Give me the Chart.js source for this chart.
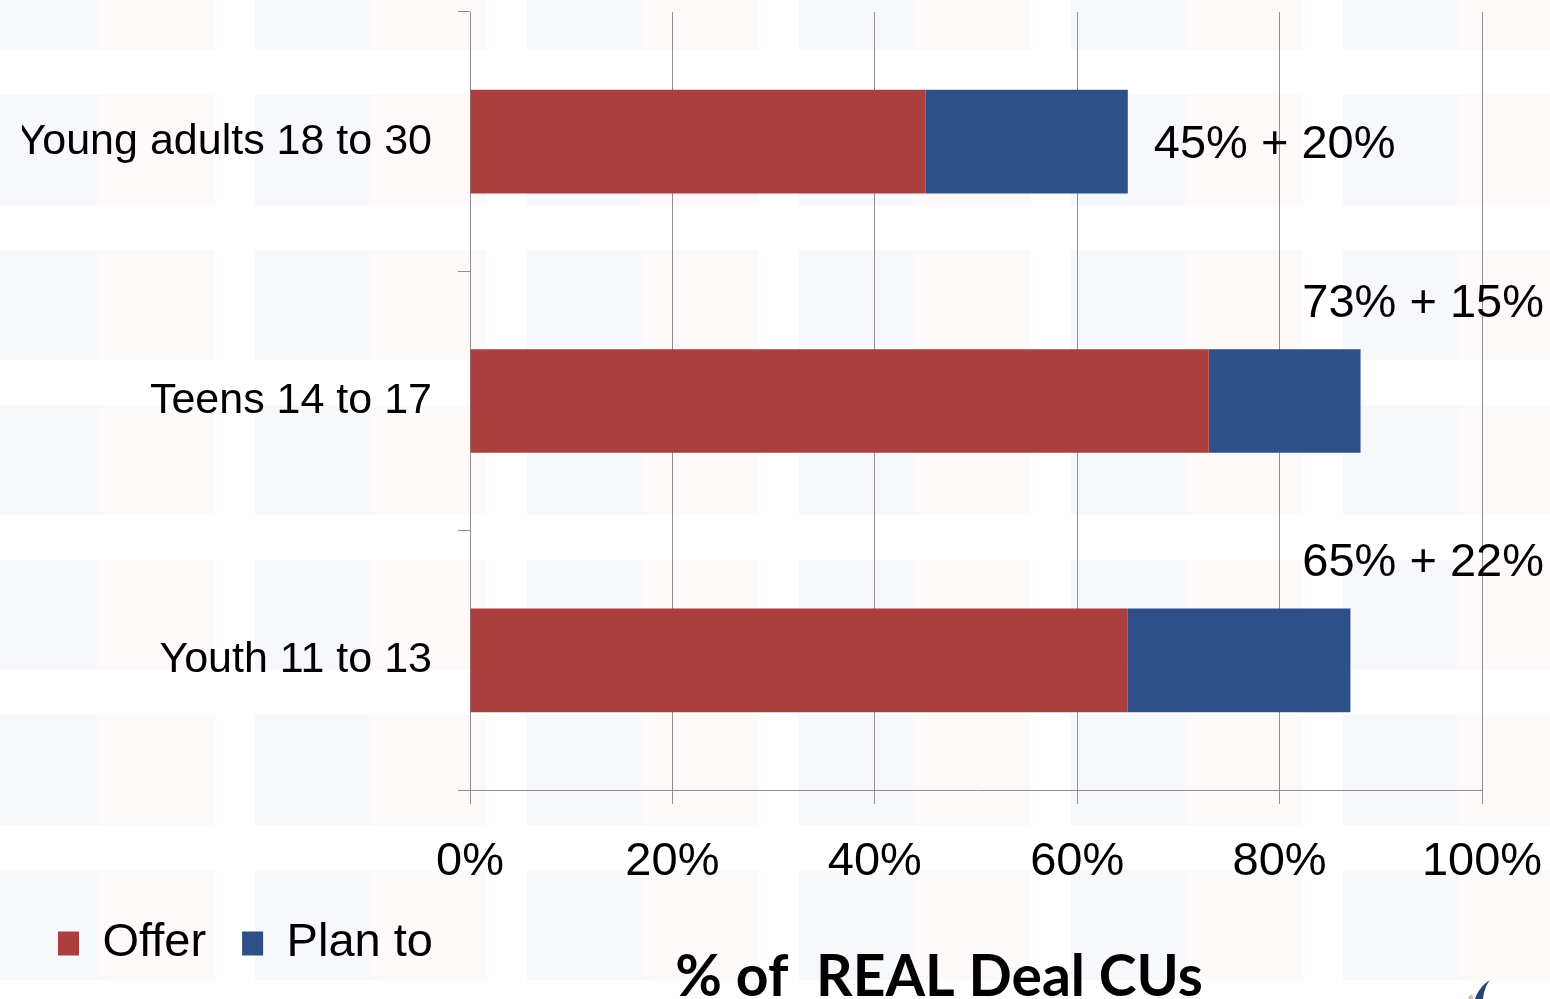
<!DOCTYPE html>
<html>
<head>
<meta charset="utf-8">
<script src="https://cdn.jsdelivr.net/npm/chart.js@4/dist/chart.umd.min.js"></script>
<style>
  html, body { margin: 0; padding: 0; }
  body {
    width: 1550px; height: 999px; overflow: hidden; position: relative;
    background-color: #fff;
    /* faint tiled slide background */
    background-image:
      linear-gradient(to bottom, rgba(255,255,255,0) 0 110px, #fff 110px 155px),
      linear-gradient(to right, #f6f8fc 0 115px, #fdf9f9 115px 232px, #fff 232px 272px);
    background-size: 100% 155px, 272px 100%;
    background-position: 0 95px, -17px 0;
  }
  #wrap { position: absolute; left: 0; top: 0; width: 1550px; height: 999px; }
  #logo { position: absolute; left: 1466px; top: 980px; }
</style>
</head>
<body>
<div id="wrap"><canvas id="chart" width="1550" height="999"></canvas></div>
<svg id="logo" width="30" height="19" viewBox="0 0 30 19">
  <path d="M24 0 C16 5 12 11 9 19 L17 19 C18 11 20 5 24 0 Z" fill="#24447c"/>
  <path d="M2 17 L6 14 L7 19 L3 19 Z" fill="#c46a6a" opacity="0.5"/>
</svg>
<script>
const categories = ["Young adults 18 to 30", "Teens 14 to 17", "Youth 11 to 13"];
const offer = [45, 73, 65];
const planTo = [20, 15, 22];
const xTicks = [0, 20, 40, 60, 80, 100];
const seriesNames = ["Offer", "Plan to"];
const titleText = "% of  REAL Deal CUs";

const RED = "#ab3f3f";
const BLUE = "#2d5088";
const GRID = "#8f8f8f";
const FONT = "'Liberation Sans', Arial, sans-serif";

// "45% + 20%" labels: beside the bar when it fits, otherwise above its end
const sumLabels = {
  id: "sumLabels",
  afterDatasetsDraw(chart) {
    const { ctx, scales: { x, y } } = chart;
    ctx.save();
    ctx.font = "47px " + FONT;
    ctx.fillStyle = "#000";
    ctx.textBaseline = "middle";
    categories.forEach((c, i) => {
      const txt = offer[i] + "% + " + planTo[i] + "%";
      const end = x.getPixelForValue(offer[i] + planTo[i]);
      const yc = y.getPixelForValue(i);
      const w = ctx.measureText(txt).width;
      if (end + 26 + w < chart.width - 6) {
        ctx.textAlign = "left";
        ctx.fillText(txt, end + 26, yc + 3);
      } else {
        ctx.textAlign = "right";
        ctx.fillText(txt, chart.width - 6, yc - 97);
      }
    });
    ctx.restore();
  }
};

// axis caption under the legend
const caption = {
  id: "caption",
  afterDraw(chart) {
    const { ctx } = chart;
    ctx.save();
    ctx.font = "bold 57px Lato, 'Open Sans', sans-serif";
    ctx.fillStyle = "#000";
    ctx.textAlign = "center";
    ctx.textBaseline = "alphabetic";
    ctx.fillText(titleText, 939, 996);
    ctx.restore();
  }
};

new Chart(document.getElementById("chart"), {
  type: "bar",
  data: {
    labels: categories,
    datasets: [
      { label: seriesNames[0], data: offer, backgroundColor: RED },
      { label: seriesNames[1], data: planTo, backgroundColor: BLUE }
    ]
  },
  options: {
    indexAxis: "y",
    responsive: false,
    animation: false,
    events: [],
    barPercentage: 0.4,
    categoryPercentage: 1,
    layout: { padding: { left: 22, right: 68, top: 12, bottom: 22 } },
    scales: {
      x: {
        stacked: true,
        min: 0,
        max: 100,
        afterBuildTicks(s) { s.ticks = xTicks.map(v => ({ value: v })); },
        afterFit(s) {
          s.height = 94;
          s.paddingLeft = 0;
          s.paddingRight = 0;
        },
        ticks: {
          color: "#000",
          font: { family: FONT, size: 47 },
          padding: 30,
          callback: v => v + "%"
        },
        grid: { color: GRID, lineWidth: 1, tickLength: 14 },
        border: { color: GRID, width: 1 }
      },
      y: {
        stacked: true,
        afterFit(s) {
          s.width = 448;
          s.paddingTop = 0;
          s.paddingBottom = 0;
        },
        ticks: {
          color: "#000",
          font: { family: FONT, size: 43 },
          padding: 26
        },
        grid: { drawOnChartArea: false, color: GRID, tickLength: 12, offset: true },
        border: { color: GRID, width: 1 }
      }
    },
    plugins: {
      legend: {
        position: "bottom",
        align: "start",
        labels: {
          color: "#000",
          font: { family: FONT, size: 47 },
          boxWidth: 21,
          boxHeight: 24,
          padding: 36
        }
      },
      tooltip: { enabled: false }
    }
  },
  plugins: [sumLabels, caption]
});
</script>
</body>
</html>
